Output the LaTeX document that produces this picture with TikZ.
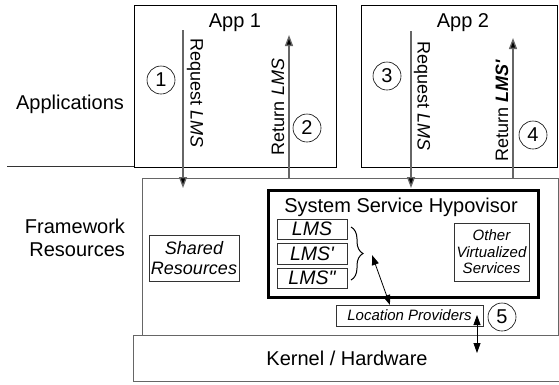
\documentclass[tikz,border=0pt]{standalone}
\usepackage{fontspec}
\setmainfont{Liberation Sans}[Ligatures=TeXOff]
\usetikzlibrary{arrows.meta,decorations.pathreplacing}
\begin{document}
\begin{tikzpicture}[x=1pt,y=-1pt,
  box/.style={draw=black,line width=1.1pt,minimum width=#1,inner sep=0pt},
  gbox/.style={draw=black!60,line width=1.1pt,inner sep=0pt},
  sbox/.style={draw=black!80,line width=0.9pt,inner sep=0pt,align=center},
  flow/.style={draw=black!60,line width=1.3pt,-{Triangle[length=11pt,width=8pt,fill=black]}},
  dflow/.style={draw=black,line width=0.8pt,{Triangle[length=10pt,width=7pt]}-{Triangle[length=10pt,width=7pt]}},
  num/.style={circle,draw=black,line width=0.6pt,minimum size=28pt,inner sep=0pt,font=\fontsize{20}{22}\selectfont},
  big/.style={font=\fontsize{20}{23}\selectfont},
  lab/.style={font=\fontsize{18}{20}\selectfont},
  it/.style={font=\fontsize{15}{16.5}\selectfont\itshape}]
\useasboundingbox (0,0) rectangle (559,384);
% boxes
\node[gbox,minimum width=429pt,minimum height=46pt,anchor=north west] (kernel) at (133,335) {};
\node[gbox,minimum width=416pt,minimum height=157pt,anchor=north west] (fw) at (142,178) {};
\node[box=202pt,minimum height=162pt,anchor=north west,fill=white] (app1) at (134,5) {};
\node[box=196pt,minimum height=162pt,anchor=north west,fill=white] (app2) at (361,5) {};
\node[draw=black,line width=3pt,minimum width=270pt,minimum height=107pt,anchor=north west] (hyp) at (266.5,188.5) {};
% separator line
\coordinate (sepl) at (7,166);
\draw[black!80,line width=1pt] (sepl) -- (sepl -| app1.west);
% texts
\node[big] (t1) at (235,23) {App 1};
\node[big] (t2) at (463,23) {App 2};
\node[big] (tapp) at (70,104) {Applications};
\node[big,align=right] (tfw) at (75,238) {Framework\\Resources};
\node[big] (thyp) at (401,207) {System Service Hypovisor};
\node[big] (tk) at (347,358) {Kernel / Hardware};
% inner boxes
\node[sbox,minimum width=90pt,minimum height=46pt,font=\fontsize{18}{20}\selectfont\itshape] (shared) at (194,258) {Shared\\Resources};
\node[sbox,minimum width=70pt,minimum height=20pt,font=\fontsize{19.5}{20}\selectfont\itshape] (lms1) at (312,229) {LMS};
\node[sbox,minimum width=70pt,minimum height=21pt,font=\fontsize{19.5}{20}\selectfont\itshape] (lms2) at (312,253.5) {LMS'};
\node[sbox,minimum width=70pt,minimum height=20pt,font=\fontsize{19.5}{20}\selectfont\itshape] (lms3) at (312,278) {LMS"};
\node[sbox,minimum width=75pt,minimum height=58pt,it] (other) at (491.5,252) {Other\\Virtualized\\Services};
\node[sbox,minimum width=147pt,minimum height=21pt,it] (lp) at (409.5,315.5) {Location Providers};
% brace
\draw[black,line width=1pt,decorate,decoration={brace,amplitude=12pt}] (351,227) -- (351,280);
\coordinate (btip) at (372,255);
\coordinate (lpa) at (390,305);
\draw[dflow] (lpa) -- (btip);
\coordinate (k5a) at (477,315);
\coordinate (k5b) at (477,353);
\draw[dflow] (k5a) -- (k5b);
% flows
\coordinate (r1s) at (183,30);
\coordinate (r1e) at (183,188);
\draw[flow] (r1s) -- (r1e);
\coordinate (r2s) at (289,178);
\coordinate (r2e) at (289,35);
\draw[flow] (r2s) -- (r2e);
\coordinate (r3s) at (411,31);
\coordinate (r3e) at (411,188);
\draw[flow] (r3s) -- (r3e);
\coordinate (r4s) at (513,178);
\coordinate (r4e) at (513,38);
\draw[flow] (r4s) -- (r4e);
\node[lab,rotate=-90] (l1) at (195,93) {Request \textit{LMS}};
\node[lab,rotate=90] (l2) at (278,107) {Return \textit{LMS}};
\node[lab,rotate=-90] (l3) at (422,96) {Request \textit{LMS}};
\node[lab,rotate=90] (l4) at (502,111) {Return \textbf{\textit{LMS'}}};
% numbers
\node[num] (n1) at (161,80) {1};
\node[num] (n2) at (307,128) {2};
\node[num] (n3) at (387,76) {3};
\node[num] (n4) at (533,135) {4};
\node[num] (n5) at (502,317) {5};
\end{tikzpicture}
\end{document}
